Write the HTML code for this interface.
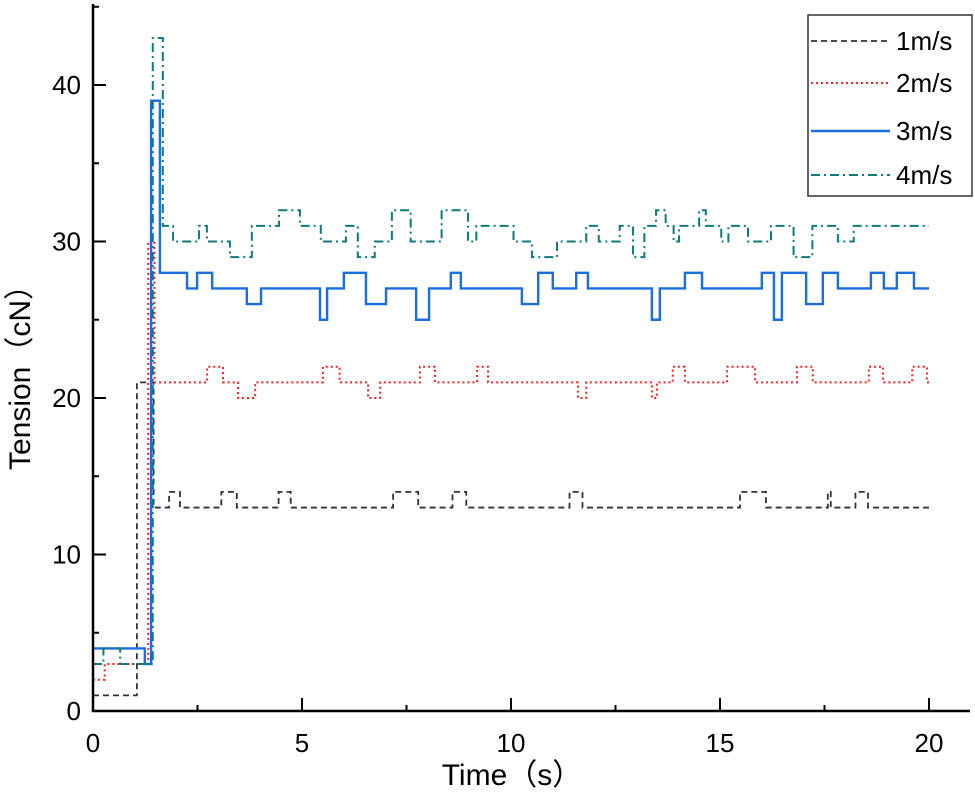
<!DOCTYPE html>
<html><head><meta charset="utf-8"><style>
html,body{margin:0;padding:0;background:#fff;}
svg{display:block;font-family:"Liberation Sans","Noto Sans CJK SC",sans-serif;}
</style></head><body>
<svg id="chart" width="975" height="793">
<g id="grid"></g>
<g id="series"></g>
<g id="axes"></g>
</svg>
<script>
const xTicks=[0,5,10,15,20];
const yTicks=[0,10,20,30,40];
const seriesNames=["1m/s","2m/s","3m/s","4m/s"];
// step series: change times and levels
const t1=[0,1.05,1.45,1.82,2.08,3.07,3.44,4.44,4.73,7.18,7.78,8.6,8.93,11.4,11.71,15.48,16.1,17.58,17.65,18.24,18.54,20];
const v1=[1,21,13,14,13,14,13,14,13,14,13,14,13,14,13,14,13,14,13,14,13,13];
const t2=[0,0.28,1.32,1.47,2.73,3.11,3.47,3.88,5.5,5.9,6.58,6.87,7.82,8.18,9.19,9.45,11.6,11.8,13.37,13.49,13.87,14.16,15.17,15.84,16.84,17.22,18.56,18.9,19.6,19.95,20];
const v2=[2,3,30,21,22,21,20,21,22,21,20,21,22,21,22,21,20,21,20,21,22,21,22,21,22,21,22,21,22,21,21];
const t3=[0,1.24,1.39,1.6,2.25,2.49,2.85,3.68,4.02,5.43,5.6,6.0,6.53,7.01,7.73,8.04,8.56,8.8,10.26,10.65,11.0,11.56,11.84,13.37,13.56,14.16,14.57,16.0,16.29,16.48,17.06,17.46,17.82,18.61,18.92,19.23,19.64,20];
const v3=[4,3,39,28,27,28,27,26,27,25,27,28,26,27,25,27,28,27,26,28,27,28,27,25,27,28,27,28,25,28,26,28,27,28,27,28,27,27];
const t4=[0,0.25,0.65,1.43,1.67,1.915,2.535,2.725,3.275,3.8,4.45,4.95,5.45,6.05,6.335,6.74,7.15,7.6,8.34,8.97,9.17,10.06,10.5,11.1,11.8,12.1,12.6,12.92,13.19,13.47,13.7,13.89,14.02,14.5,14.66,15.03,15.2,15.67,16.22,16.76,17.21,17.82,18.2,19.09,19.57,20];
const v4=[3,4,3,43,31,30,31,30,29,31,32,31,30,31,29,30,32,30,32,30,31,30,29,30,31,30,31,29,31,32,31,30,31,32,31,30,31,30,31,29,31,30,31,31,31,31];
const seriesT=[t1,t2,t3,t4];
const seriesV=[v1,v2,v3,v4];
const colors=["#333333","#ff2020","#1a6ee0","#0e7a7a"];
const dashes=["6,4","2,3","","9,4,2,4"];
const widths=[1.8,2,2.4,2];
const X0=93,X1=929,Y0=711,Y40=85;
function xs(t){return X0+(X1-X0)*t/20;}
function ys(v){return Y0+(Y40-Y0)*v/40;}
const NS="http://www.w3.org/2000/svg";
const sg=document.getElementById('series');
seriesT.forEach((T,i)=>{
  const V=seriesV[i];let d="M"+xs(T[0])+","+ys(V[0]);
  for(let k=1;k<T.length;k++){d+=" H"+xs(T[k]);d+=" V"+ys(V[k]);}
  const p=document.createElementNS(NS,'path');
  p.setAttribute('d',d);p.setAttribute('fill','none');p.setAttribute('stroke',colors[i]);
  p.setAttribute('stroke-width',widths[i]);if(dashes[i])p.setAttribute('stroke-dasharray',dashes[i]);
  
  
  sg.appendChild(p);
});
const ax=document.getElementById('axes');
function add(tag,attrs,txt){const e=document.createElementNS(NS,tag);for(const k in attrs)e.setAttribute(k,attrs[k]);if(txt!==undefined)e.textContent=txt;ax.appendChild(e);return e;}
let e;
e=add('line',{x1:X0,y1:4,x2:X0,y2:Y0+1,stroke:'#000','stroke-width':2.5});


e=add('line',{x1:X0-1,y1:Y0,x2:970,y2:Y0,stroke:'#000','stroke-width':2.5});


for(let t=0;t<=22.5;t+=2.5){const maj=t%5===0;const x=xs(t);if(x>968)break;
  add('line',{x1:x,y1:Y0,x2:x,y2:Y0-(maj?13:6),stroke:'#000','stroke-width':2});}
for(let v=0;v<=45;v+=5){const maj=v%10===0;const y=ys(v);if(y<5)break;
  add('line',{x1:X0,y1:y,x2:X0+(maj?13:6),y2:y,stroke:'#000','stroke-width':2});}
xTicks.forEach(t=>{e=add('text',{x:xs(t),y:752,'text-anchor':'middle','font-size':26},String(t));

});
yTicks.forEach(v=>{e=add('text',{x:81,y:ys(v)+9,'text-anchor':'end','font-size':26},String(v));

});
e=add('text',{x:512,y:785,'text-anchor':'middle','font-size':30},'Time（s）');


e=add('text',{x:0,y:0,'text-anchor':'middle','font-size':30,transform:'translate(30,370) rotate(-90)'},'Tension（cN）');


e=add('rect',{x:808,y:15,width:164,height:181,fill:'#fff',stroke:'#333','stroke-width':1.5});


const ly=[41,83,131,175];
seriesNames.forEach((n,i)=>{
  const l=add('line',{x1:811,y1:ly[i],x2:890,y2:ly[i],stroke:colors[i],'stroke-width':widths[i]});
  if(dashes[i])l.setAttribute('stroke-dasharray',dashes[i]);
  
  
  const t=add('text',{x:896,y:ly[i]+9,'font-size':26},n);
  
  
});
</script>
</body></html>
